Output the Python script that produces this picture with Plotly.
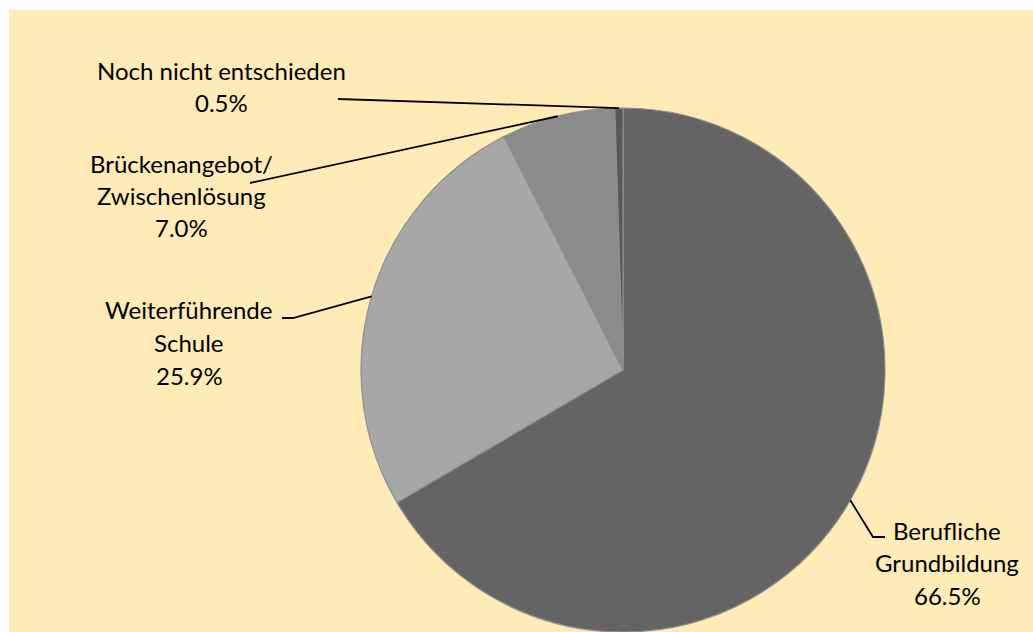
import math
import plotly.graph_objects as go

# ---- data ----
categories = ["Berufliche Grundbildung", "Weiterführende Schule",
              "Brückenangebot/ Zwischenlösung", "Noch nicht entschieden"]
values = [66.5, 25.9, 7.0, 0.5]
label_lines = [["Berufliche", "Grundbildung"],
               ["Weiterführende", "Schule"],
               ["Brückenangebot/", "Zwischenlösung"],
               ["Noch nicht entschieden"]]
colors = ["#646464", "#a7a7a7", "#8b8b8b", "#585858"]

# ---- layout (pixels) ----
W, H = 1033, 632
CX, CY, R = 623, 370, 262
label_pos = [(947, 530), (189, 310), (181, 163), (221, 70)]   # centre x, first line y
PITCH = 32.5
leader_label_side = [[(885, 537), (873, 537)],
                     [(282, 318), (293, 318)],
                     [(250, 183)],
                     [(338, 99)]]
FONT = "Lato"
FSIZE = 24
BG = "#FEEBB6"


def px(x):
    return x / W


def py(y):
    return 1 - y / H


fig = go.Figure()
fig.add_trace(go.Pie(
    labels=categories, values=values, sort=False, direction="clockwise",
    rotation=0, textinfo="none", hoverinfo="label+percent",
    marker=dict(colors=colors, line=dict(color="#8f8f8f", width=1.2)),
    domain=dict(x=[px(CX - R), px(CX + R)], y=[py(CY + R), py(CY - R)]),
    showlegend=False,
))

shapes = [dict(type="rect", xref="paper", yref="paper", x0=px(9), x1=1, y0=0, y1=py(10),
               fillcolor=BG, line=dict(width=0), layer="below")]
annotations = []
total = sum(values)
cum = 0.0
for i, v in enumerate(values):
    mid = (cum + v / 2) / total
    cum += v
    th = 2 * math.pi * mid
    ex, ey = CX + R * math.sin(th), CY - R * math.cos(th)
    pts = leader_label_side[i] + [(ex, ey)]
    path = "M " + " L ".join(f"{px(x):.5f},{py(y):.5f}" for x, y in pts)
    shapes.append(dict(type="path", xref="paper", yref="paper", path=path,
                       line=dict(color="black", width=1.8)))
    lines = label_lines[i] + [f"{v:.1f}%"]
    lx, ly = label_pos[i]
    for k, t in enumerate(lines):
        annotations.append(dict(x=px(lx), y=py(ly + k * PITCH), xref="paper", yref="paper",
                                text=t, showarrow=False, xanchor="center", yanchor="middle",
                                font=dict(family=FONT, size=FSIZE, color="black")))

fig.update_layout(
    width=W, height=H, margin=dict(l=0, r=0, t=0, b=0),
    paper_bgcolor="white", plot_bgcolor="white",
    shapes=shapes, annotations=annotations,
)
fig.write_html("out.html")
